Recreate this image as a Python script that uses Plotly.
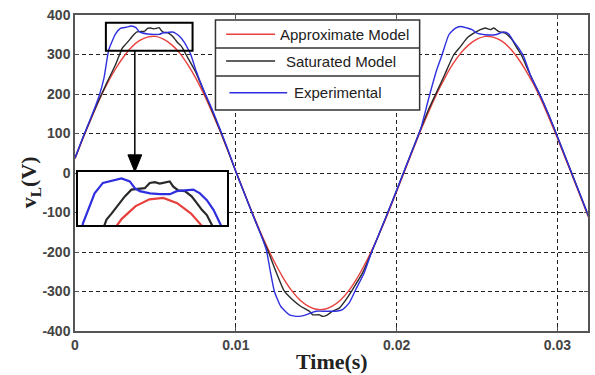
import plotly.graph_objects as go

# ---------------- data ----------------
approx_t = [round(0.0005 * k, 4) for k in range(65)]
approx_v = [36, 88, 137, 184, 226, 262, 293, 318, 335, 344,
            346, 339, 325, 304, 275, 241, 201, 156, 108, 57,
            5, -47, -98, -147, -192, -233, -269, -299, -322, -337,
            -345, -345, -337, -322, -299, -269, -233, -192, -147, -98,
            -47, 5, 57, 108, 156, 201, 241, 276, 304, 325,
            339, 346, 344, 335, 318, 293, 262, 226, 184, 137,
            88, 36, -15, -67, -119]

sat_t = [0, 0.0005, 0.001, 0.0015, 0.002, 0.0025,
         0.00295, 0.00313, 0.00343, 0.00361, 0.00385, 0.00403, 0.00433, 0.00451, 0.00469, 0.00487,
         0.00505, 0.00523, 0.00536, 0.00554, 0.00578, 0.00602, 0.00621, 0.00639, 0.00657, 0.00669,
         0.0069, 0.0075, 0.008, 0.0085, 0.009, 0.0095, 0.01, 0.0105, 0.011, 0.0115,
         0.012, 0.0125, 0.013, 0.01353, 0.01405, 0.01457, 0.01478, 0.0152, 0.0154, 0.0157,
         0.01601, 0.01643, 0.01684, 0.01726, 0.01788, 0.0185, 0.019, 0.0195, 0.02, 0.0205,
         0.021, 0.0215, 0.022, 0.0225, 0.023, 0.02356, 0.02397, 0.02438, 0.0248, 0.02521,
         0.02552, 0.02583, 0.02604, 0.02635, 0.02676, 0.02718, 0.02749, 0.0278, 0.02821, 0.0285,
         0.029, 0.0295, 0.03, 0.0305, 0.031, 0.0315, 0.032]
sat_v = [38, 90, 139, 186, 230, 272,
         317, 325, 339, 348, 357, 358, 359, 366, 367, 365,
         366, 368, 361, 356, 355, 348, 339, 330, 323, 316,
         300, 256, 208, 160, 110, 58, 3, -48, -100, -150,
         -197, -250, -298, -321, -338, -350, -359, -359, -363, -359,
         -350, -342, -321, -295, -253, -195, -145, -95, -44, 8,
         60, 112, 162, 206, 250, 300, 320, 342, 354, 363,
         367, 363, 367, 358, 354, 337, 316, 295, 257, 232,
         190, 143, 92, 40, -12, -64, -116]

exp_t = [0, 0.0005, 0.001, 0.0015, 0.0018, 0.0021, 0.00252, 0.00282, 0.00319, 0.00349,
         0.00379, 0.00397, 0.00415, 0.00452, 0.00488, 0.00524, 0.00548, 0.00578, 0.00608, 0.00632,
         0.00657, 0.00681, 0.00699, 0.0072, 0.0075, 0.008, 0.0085, 0.009, 0.0095, 0.01,
         0.0105, 0.011, 0.0115, 0.0119, 0.01215, 0.0124, 0.0128, 0.01333, 0.01384, 0.01436,
         0.01498, 0.0156, 0.01622, 0.01664, 0.01705, 0.01746, 0.01798, 0.0185, 0.019, 0.0195,
         0.02, 0.0205, 0.021, 0.0215, 0.022, 0.0225, 0.02283, 0.02325, 0.02366, 0.02397,
         0.02438, 0.02469, 0.025, 0.02552, 0.02614, 0.02666, 0.02697, 0.02728, 0.02759, 0.0279,
         0.02831, 0.0285, 0.029, 0.0295, 0.03, 0.0305, 0.031, 0.0315, 0.032]
exp_v = [38, 91, 141, 195, 240, 312, 352, 366, 369, 372,
         368, 359, 355, 352, 351, 351, 355, 356, 357, 352,
         343, 330, 317, 300, 262, 210, 164, 113, 60, 4,
         -48, -100, -150, -195, -250, -300, -338, -359, -363, -359,
         -350, -350, -350, -346, -329, -295, -253, -194, -145, -95,
         -44, 8, 60, 112, 190, 262, 300, 350, 367, 371,
         367, 363, 354, 350, 350, 357, 352, 333, 316, 295,
         249, 232, 190, 143, 92, 40, -12, -64, -116]

series_names = ["Approximate Model", "Saturated Model", "Experimental"]
y_ticks = [-400, -300, -200, -100, 0, 100, 200, 300, 400]
y_ticktext = ["-400", "-300", "-200", "-100", "0", "100", "200", "300", "400"]
x_ticks = [0, 0.01, 0.02, 0.03]
x_ticktext = ["0", "0.01", "0.02", "0.03"]
zoom_t = [0.00192, 0.00731]
zoom_v = [309.6, 380.5]

# ---------------- styling ----------------
colors = ["#e8403c", "#2a2a2a", "#2f2fe0"]
data = [(approx_t, approx_v), (sat_t, sat_v), (exp_t, exp_v)]

fig = go.Figure()
for (t, v), c, n in zip(data, colors, series_names):
    fig.add_trace(go.Scatter(x=t, y=v, mode="lines", name=n,
                             line=dict(color=c, width=1.4, shape="spline", smoothing=0.5),
                             xaxis="x", yaxis="y", showlegend=False))
for (t, v), c, n in zip(data, colors, series_names):
    fig.add_trace(go.Scatter(x=t, y=v, mode="lines", name=n,
                             line=dict(color=c, width=2.2),
                             xaxis="x2", yaxis="y2", showlegend=False, hoverinfo="skip"))

tickfont = dict(family="Liberation Sans, Arial", size=14, color="#444", weight="bold")
fig.update_layout(
    width=595, height=375,
    margin=dict(l=75, r=5, t=15, b=44),
    paper_bgcolor="white", plot_bgcolor="white",
    xaxis=dict(range=[0, 0.0319], tickvals=x_ticks, ticktext=x_ticktext,
               showgrid=True, gridcolor="#222", griddash="4px,3px", gridwidth=1,
               showline=True, linecolor="#555", linewidth=1.5, mirror="ticks",
               ticks="inside", ticklen=4, tickcolor="#555", zeroline=False,
               tickfont=tickfont, domain=[0, 1]),
    yaxis=dict(range=[-400, 400], tickvals=y_ticks, ticktext=y_ticktext,
               showgrid=True, gridcolor="#222", griddash="4px,3px", gridwidth=1,
               showline=True, linecolor="#555", linewidth=1.5, mirror="ticks",
               ticks="inside", ticklen=4, tickcolor="#555", zeroline=False,
               tickfont=tickfont, domain=[0, 1]),
    xaxis2=dict(domain=[0.0058, 0.297], anchor="y2", range=zoom_t,
                showgrid=False, showticklabels=False, ticks="", zeroline=False,
                showline=True, mirror=True, linecolor="black", linewidth=2),
    yaxis2=dict(domain=[0.335, 0.503], anchor="x2", range=zoom_v,
                showgrid=False, showticklabels=False, ticks="", zeroline=False,
                showline=True, mirror=True, linecolor="black", linewidth=2),
)

shapes = []
# zoom box on main plot
shapes.append(dict(type="rect", xref="x", yref="y", x0=zoom_t[0], x1=zoom_t[1],
                   y0=zoom_v[0], y1=zoom_v[1], line=dict(color="black", width=2),
                   layer="above"))
# arrow from zoom box down to the inset (shaft + filled head)
arrow_t = 0.00372
head_tip_v, head_base_v, head_half = 3, 46, 0.00043
shapes.append(dict(type="line", xref="x", yref="y", x0=arrow_t, x1=arrow_t,
                   y0=zoom_v[0], y1=head_base_v, line=dict(color="black", width=1.5),
                   layer="above"))
shapes.append(dict(type="path", xref="x", yref="y",
                   path=f"M {arrow_t - head_half},{head_base_v} L {arrow_t + head_half},{head_base_v} "
                        f"L {arrow_t},{head_tip_v} Z",
                   fillcolor="black", line=dict(color="black", width=1), layer="above"))
# custom legend table
lx0, lx1 = 0.2738, 0.6718
shapes.append(dict(type="rect", xref="paper", yref="paper", x0=lx0, x1=lx1,
                   y0=0.6994, y1=0.9842, fillcolor="white",
                   line=dict(color="#333", width=1.5), layer="above"))
for yy in [0.8956, 0.8070]:
    shapes.append(dict(type="line", xref="paper", yref="paper", x0=lx0, x1=lx1,
                       y0=yy, y1=yy, line=dict(color="#333", width=1.5), layer="above"))
row_y = [0.9389, 0.8544, 0.7541]
sample_x = [(0.2946, 0.390), (0.2946, 0.390), (0.301, 0.4136)]
text_x = [0.526, 0.5184, 0.5117]
annotations = []
for i in range(3):
    shapes.append(dict(type="line", xref="paper", yref="paper",
                       x0=sample_x[i][0], x1=sample_x[i][1], y0=row_y[i], y1=row_y[i],
                       line=dict(color=colors[i], width=1.5), layer="above"))
    annotations.append(dict(xref="paper", yref="paper", x=text_x[i], y=row_y[i],
                            text=series_names[i], showarrow=False, xanchor="center",
                            yanchor="middle",
                            font=dict(family="Liberation Sans, Arial", size=15, color="#222")))

# axis titles
annotations.append(dict(xref="paper", yref="paper", x=0.5, y=-0.095,
                        text="<b>Time(s)</b>", showarrow=False, xanchor="center",
                        yanchor="middle",
                        font=dict(family="Liberation Serif, Times New Roman", size=22, color="#222")))
annotations.append(dict(xref="paper", yref="paper", x=-0.0874, y=0.4715,
                        text="<b>v<sub>L</sub>(V)</b>", showarrow=False, textangle=-90,
                        xanchor="center", yanchor="middle",
                        font=dict(family="Liberation Serif, Times New Roman", size=22, color="#222")))

fig.update_layout(shapes=shapes, annotations=annotations)
fig.write_html("out.html")
